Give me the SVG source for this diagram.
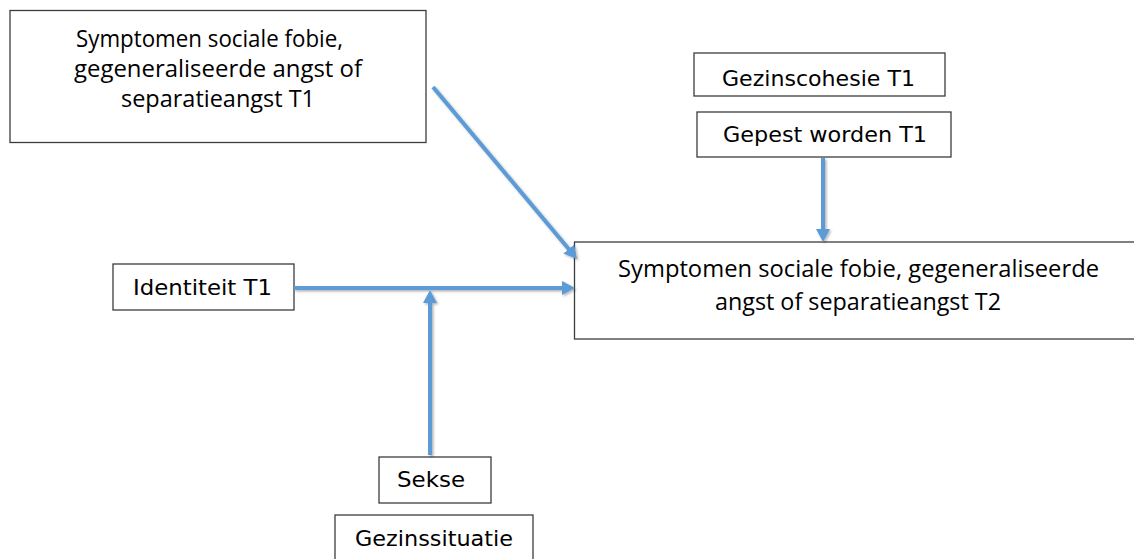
<svg xmlns="http://www.w3.org/2000/svg" width="1134" height="559" viewBox="0 0 1134 559">
<style>
.box{fill:#fff;stroke:#3c3c3c;stroke-width:1.3}
.cal{font-family:"Open Sans","Liberation Sans",sans-serif;fill:#000}
.ver{font-family:"DejaVu Sans","Liberation Sans",sans-serif;font-size:21.5px;fill:#000}
.con{stroke:#5B9BD5;stroke-width:4;fill:none;marker-end:url(#ah)}
</style>
<defs>
<marker id="ah" viewBox="0 0 13 14" refX="1" refY="7" markerWidth="13" markerHeight="14" markerUnits="userSpaceOnUse" orient="auto">
<path d="M0,0 L13,7 L0,14 z" fill="#5B9BD5"/>
</marker>
<filter id="sh" x="-10%" y="-10%" width="120%" height="120%">
<feDropShadow dx="1.5" dy="1.5" stdDeviation="0.8" flood-color="#000" flood-opacity="0.3"/>
</filter>
</defs>
<rect width="1134" height="559" fill="#fff"/>
<g id="n1">
<rect class="box" x="10" y="10.5" width="416" height="132"/>
<text class="cal" font-size="23" x="76" y="47" textLength="267" lengthAdjust="spacingAndGlyphs">Symptomen sociale fobie,</text>
<text class="cal" font-size="23" x="74" y="77" textLength="288" lengthAdjust="spacingAndGlyphs">gegeneraliseerde angst of</text>
<text class="cal" font-size="23" x="121" y="107" textLength="194" lengthAdjust="spacingAndGlyphs">separatieangst T1</text>
</g>
<g id="n2">
<rect class="box" x="694" y="53" width="251" height="43"/>
<text class="ver" x="722" y="86" textLength="193" lengthAdjust="spacingAndGlyphs">Gezinscohesie T1</text>
</g>
<g id="n3">
<rect class="box" x="697" y="112" width="254" height="45"/>
<text class="ver" x="723" y="142" textLength="204" lengthAdjust="spacingAndGlyphs">Gepest worden T1</text>
</g>
<g id="n4">
<rect class="box" x="574.5" y="242" width="580" height="97"/>
<text class="cal" font-size="23" x="618" y="277" textLength="481" lengthAdjust="spacingAndGlyphs">Symptomen sociale fobie, gegeneraliseerde</text>
<text class="cal" font-size="23" x="715" y="310" textLength="286" lengthAdjust="spacingAndGlyphs">angst of separatieangst T2</text>
</g>
<g id="n5">
<rect class="box" x="113" y="264" width="181" height="46"/>
<text class="ver" x="133" y="295" textLength="139" lengthAdjust="spacingAndGlyphs">Identiteit T1</text>
</g>
<g id="n6">
<rect class="box" x="379" y="457" width="112" height="46"/>
<text class="ver" x="397" y="487" textLength="68" lengthAdjust="spacingAndGlyphs">Sekse</text>
</g>
<g id="n7">
<rect class="box" x="335" y="515" width="198" height="60"/>
<text class="ver" x="355" y="546" textLength="158" lengthAdjust="spacingAndGlyphs">Gezinssituatie</text>
</g>
<g id="connectors" filter="url(#sh)">
<line class="con" x1="433" y1="87" x2="569.3" y2="249.8"/>
<line class="con" x1="823" y1="158" x2="823" y2="230"/>
<line class="con" x1="294" y1="288" x2="563" y2="288"/>
<line class="con" x1="430" y1="455" x2="430" y2="302"/>
</g>
</svg>
